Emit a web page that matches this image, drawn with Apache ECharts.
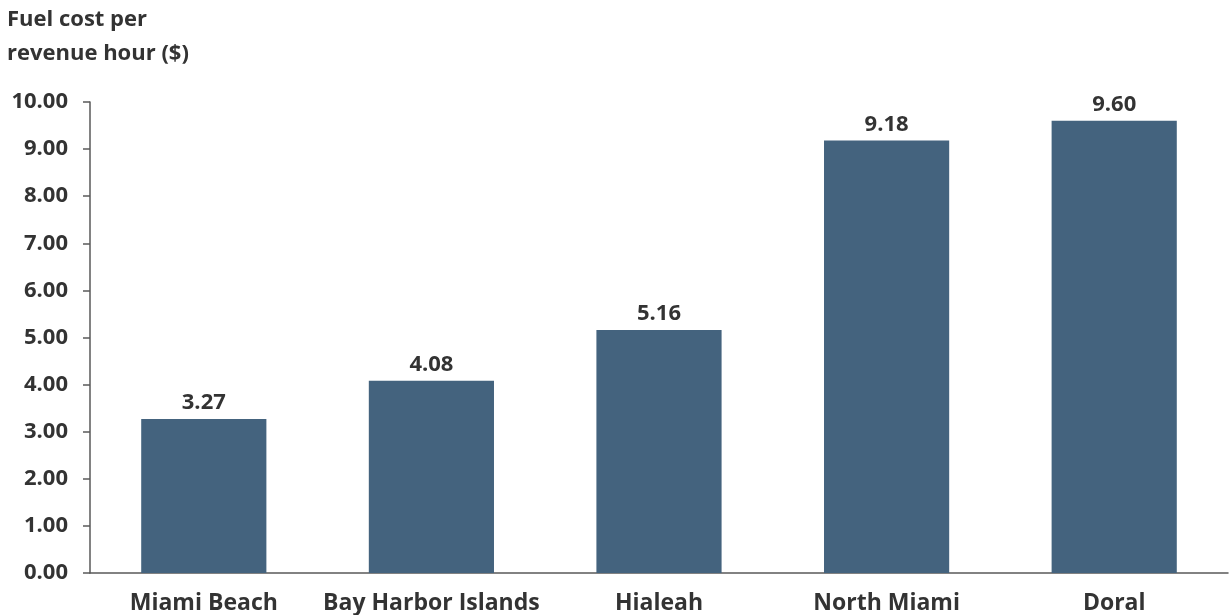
<!DOCTYPE html>
<html><head><meta charset="utf-8">
<script src="https://cdn.jsdelivr.net/npm/echarts@6/dist/echarts.min.js"></script>
<style>html,body{margin:0;padding:0;background:#fff}#c{width:1229px;height:615px}</style>
</head><body><div id="c"></div>
<script>
const categories = ["Miami Beach", "Bay Harbor Islands", "Hialeah", "North Miami", "Doral"];
const values = [3.27, 4.08, 5.16, 9.18, 9.60];
const yTitle = "Fuel cost per\nrevenue hour ($)";
const FONT = "'Open Sans', 'Noto Sans', sans-serif";
const TXT = "#333333";
const chart = echarts.init(document.getElementById('c'));
chart.setOption({
  animation: false,
  grid: {left: 90, right: 1, top: 102, bottom: 42, containLabel: false},
  title: {text: yTitle, left: 2, top: -2, textStyle: {fontFamily: FONT, fontWeight: 'bold', fontSize: 22, color: TXT, lineHeight: 34}},
  xAxis: {
    type: 'category', data: categories,
    axisLine: {show: true, lineStyle: {color: '#595959', width: 1.5}},
    axisTick: {show: false},
    axisLabel: {fontFamily: FONT, fontWeight: 'bold', fontSize: 23, color: TXT, margin: 19, interval: 0}
  },
  yAxis: {
    type: 'value', min: 0, max: 10, interval: 1,
    axisLine: {show: true, lineStyle: {color: '#595959', width: 1.5}},
    axisTick: {show: true, length: 7, lineStyle: {color: '#595959', width: 1.5}},
    splitLine: {show: false},
    axisLabel: {fontFamily: FONT, fontWeight: 'bold', fontSize: 22, color: TXT, margin: 22,
      formatter: v => v.toFixed(2)}
  },
  series: [{
    type: 'bar', data: values, barWidth: '55%',
    itemStyle: {color: '#44637E'},
    label: {show: true, position: 'top', distance: 5, fontFamily: FONT, fontWeight: 'bold', fontSize: 22, color: TXT,
      formatter: p => p.value.toFixed(2)}
  }]
});
</script></body></html>
